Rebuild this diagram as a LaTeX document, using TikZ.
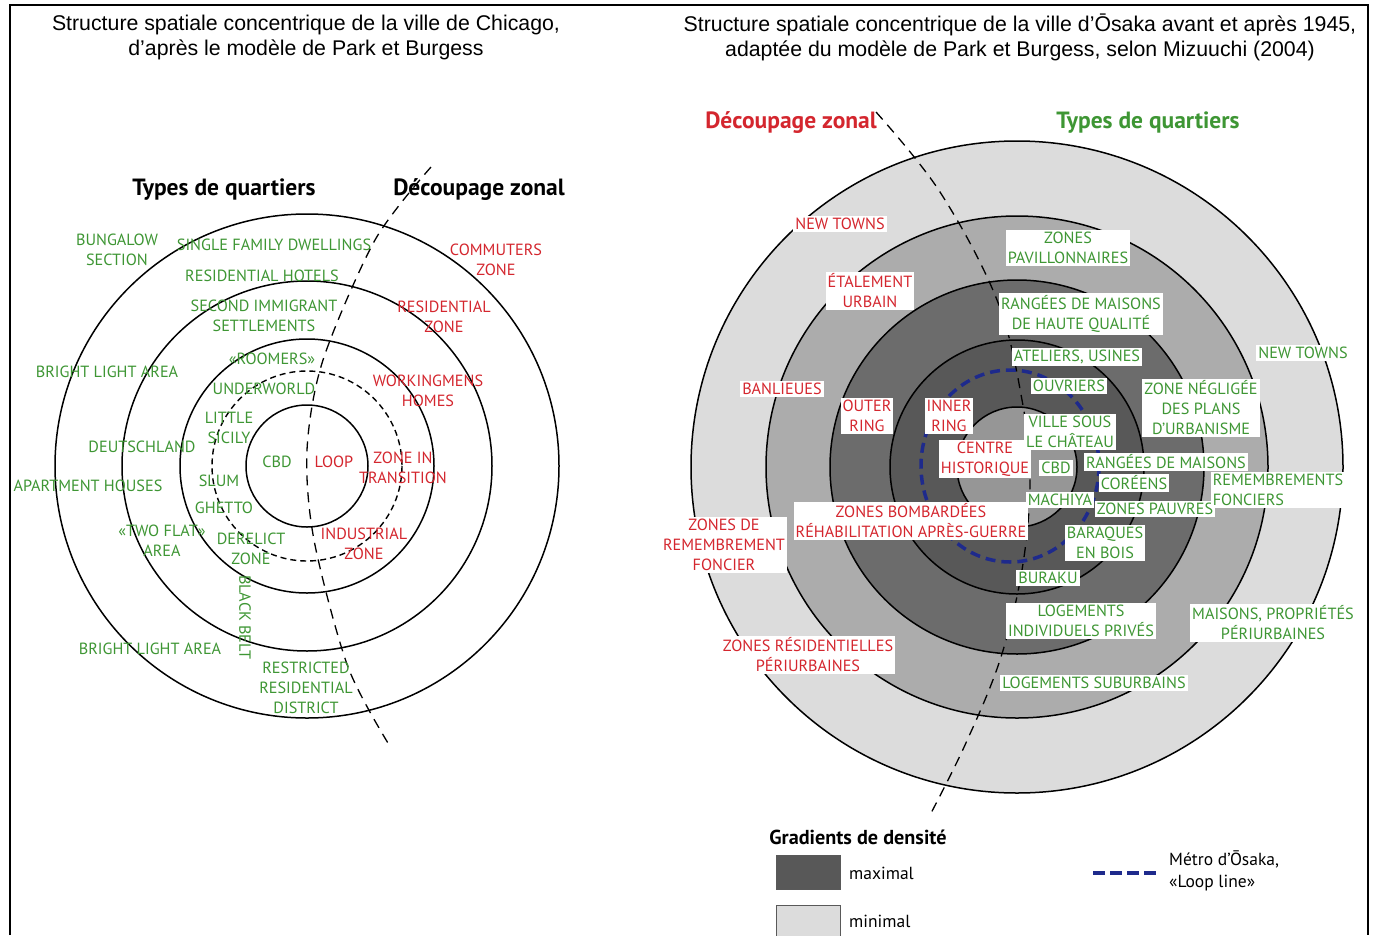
\documentclass[tikz,border=0pt]{standalone}
\usepackage{fontspec}
\setmainfont{Liberation Sans}
\newfontfamily\labfont{PT Sans}
\newfontfamily\ttlfont{Liberation Sans}
\definecolor{lgreen}{RGB}{62,150,52}
\definecolor{lred}{RGB}{212,38,46}
\definecolor{gA}{RGB}{220,220,220}
\definecolor{gB}{RGB}{172,172,172}
\definecolor{gC}{RGB}{108,108,108}
\definecolor{gD}{RGB}{88,88,88}
\definecolor{gE}{RGB}{150,150,150}
\definecolor{navy}{RGB}{30,42,140}
\tikzset{
  lab/.style={font=\labfont\fontsize{16.2}{20}\selectfont, align=center, inner sep=1.5pt},
  gr/.style={lab, text=lgreen},
  rd/.style={lab, text=lred},
  wb/.style={fill=white, inner xsep=2pt, inner ysep=2pt},
  head/.style={font=\labfont\bfseries\fontsize{23.5}{26}\selectfont, inner sep=0pt},
  ttl/.style={font=\ttlfont\fontsize{21.3}{25}\selectfont, align=center, inner sep=0pt},
  legtxt/.style={font=\labfont\fontsize{17.5}{22}\selectfont, inner sep=0pt},
  ring/.style={draw=black, line width=1.5pt},
  divider/.style={draw=black, line width=1.3pt, dash pattern=on 10pt off 7pt},
}
\begin{document}
\begin{tikzpicture}[x=1pt,y=-1pt]
\useasboundingbox (0,0) rectangle (1377,935);
\fill[white] (0,0) rectangle (1377,935);
% frame
\draw[line width=2pt] (10,935) -- (10,5) -- (1368,5) -- (1368,935);

% titles
\node[ttl] (t1) at (306,37) {Structure spatiale concentrique de la ville de Chicago,\\d’après le modèle de Park et Burgess};
\node[ttl] (t2) at (1020,37) {Structure spatiale concentrique de la ville d’Ōsaka avant et après 1945,\\adaptée du modèle de Park et Burgess, selon Mizuuchi (2004)};

%%%%%%%%%%%%%%%% CHICAGO
\coordinate (C) at (307,466);
\draw[ring] (C) circle[radius=252];
\draw[ring] (C) circle[radius=185];
\draw[ring] (C) circle[radius=127];
\draw[line width=1.4pt, dash pattern=on 6pt off 4pt] (C) circle[radius=95];
\draw[ring] (C) circle[radius=61];
\draw[divider] plot[smooth] coordinates {(431,167) (375,240) (323,360) (307,450) (314,540) (348,667) (391,748)};

\node[head] (cq) at (224,190) {Types de quartiers};
\node[head] (cz) at (479,190) {Découpage zonal};

\node[gr] (c1) at (117,250) {BUNGALOW\\SECTION};
\node[gr] (c2) at (274,245) {SINGLE FAMILY DWELLINGS};
\node[gr] (c3) at (262,276) {RESIDENTIAL HOTELS};
\node[gr] (c4) at (264,316) {SECOND IMMIGRANT\\SETTLEMENTS};
\node[gr] (c5) at (272,359) {«ROOMERS»};
\node[gr] (c6) at (107,372) {BRIGHT LIGHT AREA};
\node[gr] (c7) at (264,389) {UNDERWORLD};
\node[gr] (c8) at (229,428) {LITTLE\\SICILY};
\node[gr] (c9) at (142,447) {DEUTSCHLAND};
\node[gr] (c10) at (277,462) {CBD};
\node[gr] (c11) at (219,481) {SLUM};
\node[gr] (c12) at (88,486) {APARTMENT HOUSES};
\node[gr] (c13) at (224,508) {GHETTO};
\node[gr] (c14) at (162,541) {«TWO FLAT»\\AREA};
\node[gr] (c15) at (251,549) {DERELICT\\ZONE};
\node[gr, rotate=-90] (c16) at (245,617) {BLACK BELT};
\node[gr] (c17) at (150,649) {BRIGHT LIGHT AREA};
\node[gr] (c18) at (306,688) {RESTRICTED\\RESIDENTIAL\\DISTRICT};

\node[rd] (r1) at (496,260) {COMMUTERS\\ZONE};
\node[rd] (r2) at (444,317) {RESIDENTIAL\\ZONE};
\node[rd] (r3) at (428,391) {WORKINGMENS\\HOMES};
\node[rd] (r4) at (334,462) {LOOP};
\node[rd] (r5) at (403,468) {ZONE IN\\TRANSITION};
\node[rd] (r6) at (364,544) {INDUSTRIAL\\ZONE};

%%%%%%%%%%%%%%%% OSAKA
\coordinate (O) at (1017,467);
\filldraw[ring, fill=gA] (O) circle[radius=326];
\filldraw[ring, fill=gB] (O) circle[radius=251];
\filldraw[ring, fill=gC] (O) circle[radius=187];
\filldraw[ring, fill=gD] (O) circle[radius=127];
\filldraw[ring, fill=gE] (O) circle[radius=60];
\draw[navy, line width=3.5pt, dash pattern=on 10pt off 6pt] (1010,466) ellipse[x radius=89, y radius=96];
\draw[divider] plot[smooth, tension=0.6] coordinates {(876,112) (940,192) (997,300) (1022,400) (1030,480) (1022,570) (1000,660) (965,745) (930,815)};

\node[head, text=lred] (oz) at (791,123) {Découpage zonal};
\node[head, text=lgreen] (oq) at (1148,123) {Types de quartiers};

\node[rd, wb] (o1) at (840,224) {NEW TOWNS};
\node[rd, wb] (o2) at (870,291) {ÉTALEMENT\\URBAIN};
\node[rd, wb] (o3) at (782,389) {BANLIEUES};
\node[rd, wb] (o4) at (867,416) {OUTER\\RING};
\node[rd, wb] (o5) at (949,416) {INNER\\RING};
\node[rd, wb] (o6) at (985,459) {CENTRE\\HISTORIQUE};
\node[rd, wb] (o7) at (911,521) {ZONES BOMBARDÉES\\RÉHABILITATION APRÈS-GUERRE};
\node[rd, wb] (o8) at (724,545) {ZONES DE\\REMEMBREMENT\\FONCIER};
\node[rd, wb] (o9) at (808,655) {ZONES RÉSIDENTIELLES\\PÉRIURBAINES};

\node[gr, wb] (g1) at (1068,248) {ZONES\\PAVILLONNAIRES};
\node[gr, wb] (g2) at (1081,314) {RANGÉES DE MAISONS\\DE HAUTE QUALITÉ};
\node[gr, wb] (g3) at (1077,357) {ATELIERS, USINES};
\node[gr, wb] (g4) at (1069,386) {OUVRIERS};
\node[gr, wb] (g5) at (1070,432) {VILLE SOUS\\LE CHÂTEAU};
\node[gr, wb] (g6) at (1056,468) {CBD};
\node[gr, wb] (g7) at (1060,500) {MACHIYA};
\node[gr, wb] (g8) at (1166,462) {RANGÉES DE MAISONS};
\node[gr, wb] (g9) at (1134,483) {CORÉENS};
\node[gr, wb] (g10) at (1155,509) {ZONES PAUVRES};
\node[gr, wb] (g11) at (1105,543) {BARAQUES\\EN BOIS};
\node[gr, wb] (g12) at (1048,578) {BURAKU};
\node[gr, wb] (g13) at (1201,408) {ZONE NÉGLIGÉE\\DES PLANS\\D’URBANISME};
\node[gr, wb] (g14) at (1303,353) {NEW TOWNS};
\node[gr, wb, align=left] (g15) at (1278,490) {REMEMBREMENTS\\FONCIERS};
\node[gr, wb] (g16) at (1081,621) {LOGEMENTS\\INDIVIDUELS PRIVÉS};
\node[gr, wb] (g17) at (1273,623) {MAISONS, PROPRIÉTÉS\\PÉRIURBAINES};
\node[gr, wb] (g18) at (1094,683) {LOGEMENTS SUBURBAINS};

% legend
\node[head, font=\labfont\bfseries\fontsize{20.2}{24}\selectfont] (lg) at (858,837) {Gradients de densité};
\filldraw[draw=gray!70!black, fill=gD, line width=0.8pt] (776,855) rectangle (840,889);
\filldraw[draw=gray!70!black, fill=gA, line width=0.8pt] (776,905) rectangle (840,945);
\node[legtxt, anchor=west] (lmax) at (849,873) {maximal};
\node[legtxt, anchor=west] (lmin) at (849,921) {minimal};
\draw[navy, line width=3.5pt, dash pattern=on 12pt off 5pt] (1093,873) -- (1159,873);
\node[legtxt, anchor=west, align=left] (lmet) at (1169,871) {Métro d’Ōsaka,\\«Loop line»};
\end{tikzpicture}
\end{document}
